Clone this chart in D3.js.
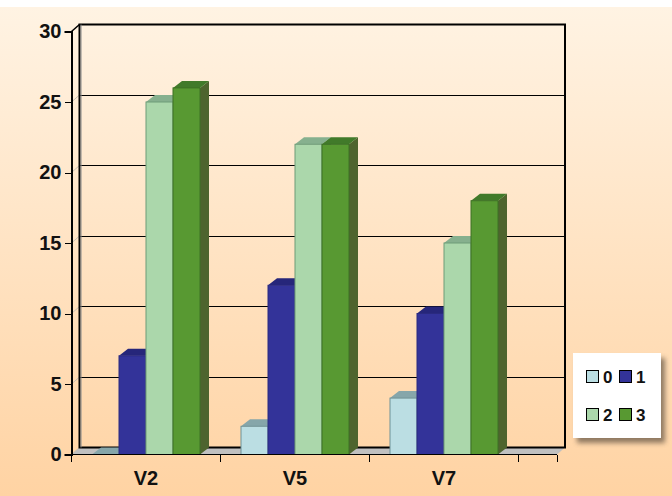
<!DOCTYPE html>
<html>
<head>
<meta charset="utf-8">
<script src="https://d3js.org/d3.v7.min.js"></script>
<style>
html, body { margin: 0; padding: 0; background: #fff; }
svg { display: block; }
text { font-family: "Liberation Sans", Arial, sans-serif; font-weight: bold; fill: #111; }
</style>
</head>
<body>
<div id="chart"></div>
<script>
var categories = ["V2", "V5", "V7", ""];
var seriesNames = ["0", "1", "2", "3"];
var series0 = [0, 2, 4];
var series1 = [7, 12, 10];
var series2 = [25, 22, 15];
var series3 = [26, 22, 18];
var allSeries = [series0, series1, series2, series3];
var yTicks = [0, 5, 10, 15, 20, 25, 30];

var fills = ["#BBDEE3", "#333399", "#ABD7AB", "#589932"];
var strokes = ["#6F9298", "#2A2A80", "#6E9C78", "#3C7024"];
var tops = ["#86A6AA", "#26267A", "#86B08E", "#417A2A"];
var sides = ["#6F8C90", "#20205E", "#7A9C7C", "#4E642E"];

var width = 672, height = 496;
var depthX = 8, depthY = 7, barDepthX = 9;
var plotLeft = 71.5, plotRight = 557, plotBottom = 454.5, plotTop = 31.5;
var step = 149;

var svg = d3.select("#chart").append("svg")
    .attr("width", width)
    .attr("height", height);

var defs = svg.append("defs");
var grad = defs.append("linearGradient")
    .attr("id", "bg")
    .attr("x1", 0).attr("y1", 0).attr("x2", 0).attr("y2", 1);
grad.append("stop").attr("offset", "0%").attr("stop-color", "#FFF3E3");
grad.append("stop").attr("offset", "100%").attr("stop-color", "#FFD3A3");
defs.append("filter")
    .attr("id", "blur")
    .attr("x", "-20%").attr("y", "-20%").attr("width", "140%").attr("height", "140%")
    .append("feGaussianBlur").attr("stdDeviation", 2.5);

svg.append("rect")
    .attr("x", 0).attr("y", 7)
    .attr("width", width).attr("height", height - 7)
    .attr("fill", "url(#bg)");

// scales
var y = d3.scaleLinear().domain([0, 30]).range([plotBottom, plotTop]);
var x = d3.scaleBand().domain(categories).range([plotLeft, plotLeft + step * 4]);
var xBar = d3.scaleBand().domain(seriesNames).range([20.5, 128.5]);

// floor
svg.append("polygon")
    .attr("points", [[plotLeft, plotBottom], [plotRight, plotBottom], [plotRight + depthX, plotBottom - depthY], [plotLeft + depthX, plotBottom - depthY]].join(" "))
    .attr("fill", "#C0C0C0");

// side wall lines running from the front ticks to the back wall
svg.append("g").selectAll("line")
    .data(yTicks)
    .join("line")
    .attr("x1", plotLeft).attr("x2", plotLeft + depthX)
    .attr("y1", d => y(d)).attr("y2", d => y(d) - depthY)
    .attr("stroke", "#C8C0B4").attr("stroke-width", 1);

// back wall grid
svg.append("g").selectAll("line")
    .data(yTicks)
    .join("line")
    .attr("x1", plotLeft + depthX).attr("x2", plotRight + depthX)
    .attr("y1", d => y(d) - depthY).attr("y2", d => y(d) - depthY)
    .attr("stroke", "#000").attr("stroke-width", 1)
    .attr("shape-rendering", "crispEdges");

// back wall frame
svg.append("path")
    .attr("d", "M" + (plotLeft + depthX) + "," + (plotBottom - depthY) + "V" + (plotTop - depthY) + "H" + (plotRight + depthX) + "V" + (plotBottom - depthY) + "Z")
    .attr("fill", "none").attr("stroke", "#000").attr("stroke-width", 2);
svg.append("line")
    .attr("x1", plotLeft + depthX + 1.5).attr("x2", plotLeft + depthX + 1.5)
    .attr("y1", plotTop - depthY).attr("y2", plotBottom - depthY)
    .attr("stroke", "#888").attr("stroke-width", 1);

// front-left corner of the wall
svg.append("line")
    .attr("x1", plotLeft).attr("x2", plotLeft + depthX)
    .attr("y1", plotTop).attr("y2", plotTop - depthY)
    .attr("stroke", "#000").attr("stroke-width", 1.5);

// bars
var bars = svg.append("g");
categories.slice(0, 3).forEach(function(cat, c) {
    seriesNames.forEach(function(name, s) {
        var v = allSeries[s][c];
        var x0 = x(cat) + xBar(name);
        var x1 = x0 + xBar.bandwidth();
        var yt = y(v), h = plotBottom - yt;
        var g = bars.append("g");
        g.append("polygon")
            .attr("points", [[x1, yt], [x1 + barDepthX, yt - depthY], [x1 + barDepthX, plotBottom - depthY], [x1, plotBottom]].join(" "))
            .attr("fill", sides[s]);
        g.append("polygon")
            .attr("points", [[x0, yt], [x0 + barDepthX, yt - depthY], [x1 + barDepthX, yt - depthY], [x1, yt]].join(" "))
            .attr("fill", tops[s]);
        if (v > 0) {
            g.append("rect")
                .attr("x", x0).attr("y", yt)
                .attr("width", xBar.bandwidth()).attr("height", h)
                .attr("fill", fills[s])
                .attr("stroke", strokes[s]).attr("stroke-width", 1);
        }
    });
});

// front axes
var yAxis = d3.axisLeft(y).tickValues(yTicks).tickSize(7).tickPadding(3);
var yG = svg.append("g").attr("transform", "translate(" + plotLeft + ",0)").call(yAxis);
yG.select(".domain").attr("stroke", "#000").attr("stroke-width", 2);
yG.selectAll(".tick line").attr("stroke", "#000").attr("stroke-width", 1).attr("shape-rendering", "crispEdges");
yG.selectAll("text").attr("font-size", 20).attr("fill", "#111")
    .style("font-family", '"Liberation Sans", Arial, sans-serif').style("font-weight", "bold");

svg.append("line")
    .attr("x1", plotLeft).attr("x2", plotRight)
    .attr("y1", plotBottom).attr("y2", plotBottom)
    .attr("stroke", "#000").attr("stroke-width", 1);

// x ticks sit on the band edges, the last band is cut short at the plot end
var xTickPos = [plotLeft, plotLeft + step, plotLeft + step * 2, plotLeft + step * 3, plotRight];
svg.append("g").selectAll("line")
    .data(xTickPos)
    .join("line")
    .attr("x1", d => d).attr("x2", d => d)
    .attr("y1", plotBottom).attr("y2", plotBottom + 7)
    .attr("stroke", "#000").attr("stroke-width", 1)
    .attr("shape-rendering", "crispEdges");

svg.append("g").selectAll("text")
    .data(categories.slice(0, 3))
    .join("text")
    .attr("x", d => x(d) + x.bandwidth() / 2)
    .attr("y", 485)
    .attr("text-anchor", "middle")
    .attr("font-size", 20)
    .text(d => d);

// legend
var legendX = 573, legendY = 353, legendW = 88, legendH = 85;
svg.append("rect")
    .attr("x", legendX + 4).attr("y", legendY + 5)
    .attr("width", legendW).attr("height", legendH)
    .attr("fill", "#6b5a48").attr("opacity", 0.75)
    .attr("filter", "url(#blur)");
svg.append("rect")
    .attr("x", legendX).attr("y", legendY)
    .attr("width", legendW).attr("height", legendH)
    .attr("fill", "#fff");
var legendItems = svg.append("g").selectAll("g")
    .data(seriesNames)
    .join("g")
    .attr("transform", (d, i) => "translate(" + (586.5 + (i % 2) * 33) + "," + (370.5 + Math.floor(i / 2) * 38) + ")");
legendItems.append("rect")
    .attr("width", 12).attr("height", 12)
    .attr("fill", (d, i) => fills[i])
    .attr("stroke", "#000").attr("stroke-width", 1);
legendItems.append("text")
    .attr("x", 16.5).attr("y", 12.5)
    .attr("font-size", 17)
    .text(d => d);
</script>
</body>
</html>
